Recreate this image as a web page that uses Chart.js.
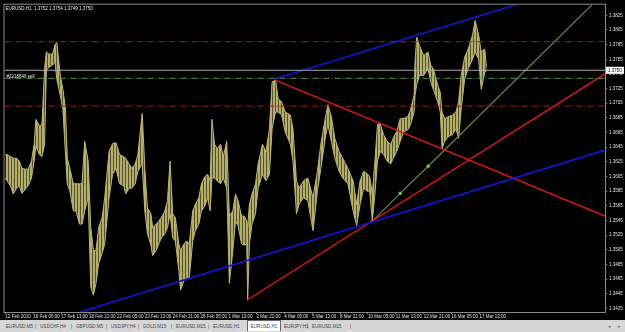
<!DOCTYPE html>
<html><head><meta charset="utf-8">
<script src="https://cdn.jsdelivr.net/npm/chart.js@4/dist/chart.umd.min.js"></script>
<style>
html,body{margin:0;padding:0;background:#000;width:625px;height:332px;overflow:hidden}
#c{display:block}
#tabs{position:absolute;left:0;top:320px;width:625px;height:12px;background:#d6d6d6;font-family:"Liberation Sans",Arial,sans-serif;font-size:4.6px;color:#444}
#tabs span{position:absolute;top:3.5px;white-space:nowrap;line-height:5px}
#tabs .act{top:0;height:11px;background:#fff;border:1px solid #666;border-bottom:none;box-sizing:border-box;text-align:center;line-height:11px}
</style></head><body>
<canvas id="c" width="625" height="320"></canvas>
<div id="tabs"></div>
<script>
// ---- data (EURUSD H1, bar index = hours of trading from first visible bar) ----
const barIndex = [0,2,6,9,13,16,19,23,26,30,33,35,39,42,45,47,50,54,57,59,63,66,69,71,74,78,81,85,88,91,95,98,101,104,107,111,114,119,123,127,131,136,138,142,145,149,152,157,160,163,167,169,173,176,179,183,186,189,192,195,199,201,205,208,211,215,218,222,225,229,232,235,237,240,243,247,250,254,257,261,264,267,271,274,277,278,280,283,287,290,295,299,303,306,310,313,317,321,327,330,334,337,342,347,353,358,362,367,370,374,378,383,387,393,399,403,407,411,415,418,421,424,427,430,434,438,442,446,449,453,457,462,465,469,470,472,475,480,485,488,491,496,499,501,504,509,513,517,520,523,527,531,536,539,543,546,550,552];
const highs = [1.3635,1.3635,1.3632,1.3630,1.3630,1.3626,1.3616,1.3615,1.3615,1.3626,1.3649,1.3683,1.3674,1.3676,1.3752,1.3775,1.3772,1.3772,1.3785,1.3788,1.3743,1.3724,1.3697,1.3630,1.3616,1.3595,1.3595,1.3595,1.3595,1.3653,1.3626,1.3535,1.3504,1.3504,1.3535,1.3549,1.3576,1.3639,1.3650,1.3651,1.3635,1.3632,1.3630,1.3622,1.3616,1.3622,1.3635,1.3691,1.3616,1.3562,1.3554,1.3535,1.3540,1.3544,1.3549,1.3558,1.3572,1.3626,1.3554,1.3549,1.3513,1.3504,1.3513,1.3517,1.3513,1.3558,1.3567,1.3576,1.3595,1.3605,1.3608,1.3599,1.3683,1.3649,1.3643,1.3649,1.3632,1.3653,1.3551,1.3558,1.3581,1.3572,1.3551,1.3551,1.3544,1.3535,1.3567,1.3581,1.3595,1.3622,1.3649,1.3639,1.3670,1.3734,1.3737,1.3711,1.3707,1.3693,1.3689,1.3670,1.3599,1.3589,1.3599,1.3603,1.3576,1.3612,1.3649,1.3684,1.3703,1.3687,1.3657,1.3639,1.3630,1.3616,1.3599,1.3567,1.3599,1.3612,1.3609,1.3605,1.3581,1.3626,1.3676,1.3677,1.3662,1.3653,1.3649,1.3660,1.3666,1.3684,1.3684,1.3687,1.3697,1.3716,1.3761,1.3795,1.3784,1.3770,1.3775,1.3757,1.3752,1.3730,1.3720,1.3693,1.3684,1.3687,1.3689,1.3693,1.3707,1.3743,1.3768,1.3779,1.3798,1.3818,1.3798,1.3775,1.3779,1.3754];
const lows = [1.3603,1.3599,1.3592,1.3581,1.3589,1.3592,1.3582,1.3588,1.3592,1.3603,1.3626,1.3646,1.3635,1.3632,1.3649,1.3750,1.3754,1.3757,1.3761,1.3738,1.3716,1.3697,1.3635,1.3595,1.3585,1.3558,1.3558,1.3540,1.3540,1.3558,1.3576,1.3454,1.3443,1.3459,1.3486,1.3500,1.3513,1.3576,1.3608,1.3616,1.3595,1.3592,1.3581,1.3589,1.3589,1.3595,1.3612,1.3622,1.3558,1.3527,1.3511,1.3497,1.3504,1.3513,1.3521,1.3527,1.3535,1.3554,1.3521,1.3517,1.3477,1.3450,1.3463,1.3467,1.3467,1.3517,1.3531,1.3540,1.3558,1.3565,1.3576,1.3558,1.3603,1.3603,1.3599,1.3595,1.3603,1.3589,1.3459,1.3504,1.3544,1.3538,1.3513,1.3511,1.3513,1.3436,1.3513,1.3540,1.3554,1.3589,1.3608,1.3599,1.3608,1.3670,1.3693,1.3693,1.3689,1.3666,1.3649,1.3626,1.3554,1.3567,1.3576,1.3572,1.3531,1.3585,1.3616,1.3657,1.3676,1.3653,1.3630,1.3612,1.3603,1.3595,1.3558,1.3538,1.3567,1.3589,1.3585,1.3585,1.3544,1.3581,1.3626,1.3639,1.3635,1.3626,1.3622,1.3632,1.3639,1.3653,1.3666,1.3669,1.3676,1.3693,1.3716,1.3730,1.3743,1.3743,1.3752,1.3734,1.3724,1.3707,1.3693,1.3643,1.3653,1.3660,1.3662,1.3670,1.3657,1.3697,1.3738,1.3752,1.3765,1.3775,1.3765,1.3724,1.3747,1.3749];

const xTickBars = [0,32,64,96,128,160,192,224,256,288,320,352,384,416,448,480,512,544];
const xTickLabels = ["12 Feb 2010","16 Feb 05:00","17 Feb 13:00","18 Feb 21:00","22 Feb 05:00","23 Feb 13:00","24 Feb 21:00","26 Feb 05:00","1 Mar 13:00","2 Mar 21:00","4 Mar 05:00","5 Mar 13:00","8 Mar 21:00","10 Mar 05:00","11 Mar 13:00","12 Mar 21:00","16 Mar 05:00","17 Mar 13:00"];
const yTicks = [1.3425,1.3445,1.3465,1.3485,1.3505,1.3525,1.3545,1.3565,1.3585,1.3605,1.3625,1.3645,1.3665,1.3685,1.3705,1.3725,1.3745,1.3765,1.3785,1.3805,1.3825];

const symbolName = "EURUSD,H1";
const lastOHLC = [1.3752, 1.3754, 1.3749, 1.3750];
const currentPrice = 1.3750;
const orderLabel = "#2218646 sell";
const orderPrice = 1.3739;
const levelPrices = [1.3789, 1.3701];

// trend lines: [startBar, startPrice, endBar, endPrice]
const upperChannel = [309, 1.3738, 688, 1.3877];
const lowerChannel = [86, 1.3420, 688, 1.3641];
const redDown = [309, 1.3737, 688, 1.3551];
const redUp = [277, 1.3436, 688, 1.3745];
const greenBars = [421, 453, 485, 688];
const greenPrices = [1.3544, 1.3582, 1.3619, 1.3857];

const tabNames = ["EURUSD,M5","USDCHF,H4","GBPUSD,M5","USDJPY,H4","GOLD,M15","EURUSD,M15","EURUSD,H1","EURUSD,H1","EURJPY,H1","EURUSD,M15"];
const activeTab = 7;

// ---- build ----
const X_MIN = -1, X_MAX = 688, Y_MIN = 1.3420, Y_MAX = 1.38395;
const hiPts = barIndex.map((b,i)=>({x:b,y:highs[i]}));
const loPts = barIndex.map((b,i)=>({x:b,y:lows[i]}));
const seg = a => [{x:a[0],y:a[1]},{x:a[2],y:a[3]}];
const hline = p => [{x:X_MIN,y:p},{x:X_MAX,y:p}];
const base = {pointRadius:0, tension:0, fill:false, order:0};

// vertical bar texture for the price band (dense H1 bars)
const pc = document.createElement('canvas'); pc.width = 3; pc.height = 1;
const pctx = pc.getContext('2d');
pctx.fillStyle = '#b3ad6a'; pctx.fillRect(0,0,2,1);
pctx.fillStyle = '#55522e'; pctx.fillRect(2,0,1,1);
const barPattern = pctx.createPattern(pc, 'repeat');

const overlay = {
  id:'overlay',
  beforeDraw(chart){
    const c = chart.ctx; c.save(); c.fillStyle='#000'; c.fillRect(0,0,chart.width,chart.height); c.restore();
  },
  afterDraw(chart){
    const c = chart.ctx, a = chart.chartArea, ys = chart.scales.y;
    c.save();
    c.strokeStyle = '#8a8a8a'; c.lineWidth = 1;
    c.strokeRect(a.left-0.5, a.top-0.5, a.right-a.left+1, a.bottom-a.top+1);
    c.font = '4.5px "Liberation Sans", Arial, sans-serif';
    c.fillStyle = '#e8e8e8'; c.textBaseline = 'alphabetic'; c.textAlign='left';
    c.fillText(symbolName + '  ' + lastOHLC.map(v=>v.toFixed(4)).join(' '), a.left+1, a.top+5);
    c.fillText(orderLabel, a.left+2, ys.getPixelForValue(orderPrice)-0.5);
    const py = ys.getPixelForValue(currentPrice);
    c.fillStyle = '#ffffff'; c.fillRect(a.right+1, py-3.5, 18, 7);
    c.fillStyle = '#000'; c.textBaseline='middle';
    c.fillText(currentPrice.toFixed(4), a.right+3, py+0.3);
    c.restore();
  }
};

new Chart(document.getElementById('c'), {
  type:'line',
  data:{datasets:[
    {data:hiPts, borderColor:'#bdb677', borderWidth:1, backgroundColor:barPattern, pointRadius:0, tension:0, fill:false, order:5},
    {data:loPts, borderColor:'#bdb677', borderWidth:1, backgroundColor:barPattern, pointRadius:0, tension:0, fill:'-1', order:5},
    {...base, data:hline(levelPrices[0]), borderColor:'#9a2020', borderWidth:1, borderDash:[6,2,1,2]},
    {...base, data:hline(levelPrices[1]), borderColor:'#9a2020', borderWidth:1, borderDash:[6,2,1,2]},
    {...base, data:hline(currentPrice), borderColor:'#a8a8a8', borderWidth:1},
    {...base, data:hline(orderPrice), borderColor:'#5f8f5f', borderWidth:1, borderDash:[6,2,1,2]},
    {...base, data:seg(upperChannel), borderColor:'#1414d2', borderWidth:1.6},
    {...base, data:seg(lowerChannel), borderColor:'#1414d2', borderWidth:1.6},
    {...base, data:seg(redDown), borderColor:'#e01818', borderWidth:1.4},
    {...base, data:seg(redUp), borderColor:'#e01818', borderWidth:1.4},
    {...base, data:greenBars.map((b,i)=>({x:b,y:greenPrices[i]})), borderColor:'#5a8a46', borderWidth:1.2,
      pointRadius:[1.6,1.6,1.6,0], pointBackgroundColor:'#7fd07f', pointBorderColor:'#5a8a46', pointBorderWidth:0.5}
  ]},
  options:{
    responsive:false, animation:false, devicePixelRatio:1,
    layout:{padding:{left:3,top:2,right:0,bottom:0}},
    plugins:{legend:{display:false}, tooltip:{enabled:false}},
    scales:{
      x:{type:'linear', min:X_MIN, max:X_MAX, position:'bottom',
        afterBuildTicks:s=>{s.ticks = xTickBars.map(v=>({value:v}));},
        afterFit:s=>{s.height = 8;},
        ticks:{autoSkip:false, maxRotation:0, minRotation:0, align:'start', padding:0, color:'#e0e0e0',
          font:{size:4.5, family:'"Liberation Sans", Arial, sans-serif'},
          callback:(v,i)=>xTickLabels[i]},
        grid:{drawOnChartArea:false, drawTicks:true, tickLength:2, color:'#8a8a8a'},
        border:{display:true, color:'#8a8a8a'}
      },
      y:{type:'linear', min:Y_MIN, max:Y_MAX, position:'right',
        afterBuildTicks:s=>{s.ticks = yTicks.map(v=>({value:v}));},
        afterFit:s=>{s.width = 20;},
        ticks:{padding:2, color:'#e0e0e0', font:{size:4.5, family:'"Liberation Sans", Arial, sans-serif'},
          callback:v=>Number(v).toFixed(4)},
        grid:{drawOnChartArea:false, drawTicks:true, tickLength:2, color:'#8a8a8a'},
        border:{display:true, color:'#8a8a8a'}
      }
    }
  },
  plugins:[overlay]
});

// tab bar
const tabLefts = [6,40,76,111,143,176,213,247,284,312];
const tabs = document.getElementById('tabs');
tabNames.forEach((n,i)=>{
  const s = document.createElement('span');
  s.textContent = n;
  if (i===activeTab){ s.className='act'; s.style.left=tabLefts[i]+'px'; s.style.width='34px'; }
  else { s.style.left = tabLefts[i]+'px'; }
  tabs.appendChild(s);
  if (i!==activeTab && i+1!==activeTab){
    const sep = document.createElement('span'); sep.textContent='|';
    sep.style.left = (i+1<tabLefts.length ? tabLefts[i+1]-5 : tabLefts[i]+38)+'px';
    tabs.appendChild(sep);
  }
});
['\u25C2','\u25B8'].forEach((t,i)=>{const s=document.createElement('span'); s.textContent=t; s.style.left=(608+i*10)+'px'; s.style.color='#777'; tabs.appendChild(s);});
</script>
</body></html>
